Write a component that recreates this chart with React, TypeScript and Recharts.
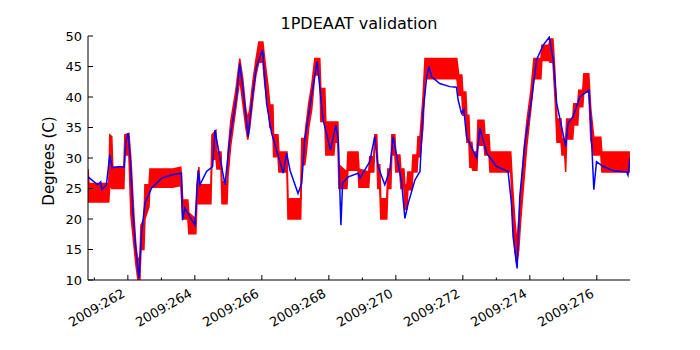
import React from "react";
import { ComposedChart, Area, Line, XAxis, YAxis } from "recharts";

// day of year 2009, measured temperature band (lo / hi of the noisy telemetry)
const redDay = [
  260.81, 260.84, 261.43, 261.46, 261.52, 261.55, 261.88, 261.91, 262.03, 262.09,
  262.18, 262.24, 262.3, 262.36, 262.39, 262.48, 262.51, 262.63, 262.66, 263.34,
  263.58, 263.64, 263.79, 263.82, 264.03, 264.06, 264.12, 264.15, 264.48, 264.51,
  264.63, 264.66, 264.78, 264.81, 264.96, 264.99, 265.07, 265.22, 265.34, 265.43,
  265.52, 265.58, 265.64, 265.73, 265.82, 265.91, 266.03, 266.09, 266.18, 266.24,
  266.33, 266.35, 266.48, 266.51, 266.75, 266.78, 267.16, 267.19, 267.28, 267.31,
  267.4, 267.49, 267.58, 267.73, 267.76, 267.88, 267.91, 268.15, 268.18, 268.27,
  268.3, 268.54, 268.57, 268.87, 268.9, 269.19, 269.22, 269.34, 269.37, 269.43,
  269.46, 269.52, 269.55, 269.73, 269.76, 269.85, 269.88, 269.97, 270.0, 270.12,
  270.15, 270.24, 270.27, 270.33, 270.36, 270.48, 270.51, 270.63, 270.66, 270.72,
  270.81, 270.87, 271.82, 271.88, 271.97, 272.0, 272.09, 272.12, 272.18, 272.21,
  272.27, 272.3, 272.42, 272.45, 272.63, 272.66, 272.78, 272.81, 273.43, 273.49,
  273.55, 273.61, 273.67, 273.73, 273.82, 273.91, 274.03, 274.12, 274.33, 274.36,
  274.57, 274.6, 274.69, 274.75, 274.81, 274.93, 274.96, 275.04, 275.07, 275.1,
  275.28, 275.31, 275.43, 275.46, 275.58, 275.61, 275.76, 275.82, 275.91, 276.12,
  276.15, 276.99,
];
const redLo = [
  22.8, 22.8, 22.8, 25.6, 25.0, 25.0, 25.0, 30.5, 30.5, 20.7,
  15.7, 12.5, 10.0, 10.0, 15.0, 15.0, 20.0, 22.0, 25.2, 25.2,
  25.5, 20.0, 20.0, 17.6, 17.6, 22.5, 22.5, 22.5, 22.5, 29.8,
  29.8, 28.2, 28.2, 22.5, 22.5, 27.0, 32.0, 38.0, 43.0, 39.0,
  35.0, 33.0, 35.0, 39.5, 43.5, 45.7, 45.7, 42.0, 38.7, 35.0,
  34.3, 30.2, 30.2, 27.7, 27.7, 20.0, 20.0, 28.9, 28.9, 30.0,
  35.0, 38.0, 43.6, 43.6, 36.0, 36.0, 30.5, 30.5, 32.6, 32.6,
  25.0, 25.0, 28.0, 28.0, 25.2, 25.2, 27.7, 27.7, 31.5, 31.5,
  25.0, 25.0, 20.0, 20.0, 25.0, 25.0, 30.5, 30.5, 27.7, 27.7,
  25.0, 25.0, 21.6, 21.6, 24.8, 24.8, 27.7, 27.7, 30.2, 30.2,
  35.0, 43.0, 43.0, 40.3, 40.3, 37.0, 37.0, 32.6, 32.6, 28.5,
  28.5, 28.0, 28.0, 32.1, 32.1, 30.5, 30.5, 27.7, 27.7, 20.0,
  15.0, 12.5, 15.0, 20.0, 26.0, 32.0, 38.0, 43.0, 43.0, 46.0,
  46.0, 45.7, 45.7, 40.0, 32.6, 32.6, 30.5, 30.5, 27.7, 33.1,
  33.1, 35.4, 35.4, 38.4, 38.4, 40.8, 40.8, 33.0, 30.5, 30.5,
  27.7, 27.7,
];
const redHi = [
  28.2, 25.8, 25.8, 33.8, 33.5, 28.5, 28.5, 33.8, 34.0, 30.0,
  20.7, 15.7, 13.0, 14.0, 19.0, 20.0, 25.6, 25.6, 28.2, 28.2,
  28.5, 23.1, 23.1, 21.0, 20.0, 25.6, 28.5, 25.6, 25.6, 33.8,
  34.5, 31.0, 31.0, 26.1, 26.1, 31.0, 36.0, 41.0, 46.3, 43.0,
  38.0, 36.5, 38.0, 42.5, 46.0, 49.0, 49.0, 46.0, 42.0, 38.7,
  38.7, 33.8, 33.8, 31.0, 31.0, 23.3, 23.3, 33.2, 33.2, 35.0,
  39.0, 42.0, 46.3, 46.3, 41.4, 41.4, 35.9, 35.9, 35.9, 35.9,
  28.9, 27.7, 31.0, 31.0, 28.2, 27.7, 30.2, 30.2, 33.8, 33.8,
  28.9, 28.9, 23.3, 23.3, 28.2, 28.2, 33.8, 33.8, 30.5, 30.5,
  28.2, 28.2, 25.6, 25.6, 27.7, 27.7, 30.5, 30.5, 33.5, 33.5,
  40.0, 46.3, 46.3, 43.6, 43.6, 40.8, 40.8, 37.0, 37.0, 32.6,
  32.6, 31.0, 31.0, 36.2, 36.2, 33.8, 33.8, 31.0, 31.0, 25.0,
  20.0, 16.0, 20.0, 24.0, 31.0, 36.0, 41.0, 46.3, 46.3, 48.5,
  48.5, 49.5, 49.5, 44.0, 36.4, 36.4, 33.1, 33.1, 33.1, 36.4,
  36.4, 38.9, 38.9, 41.1, 41.1, 43.8, 43.8, 38.0, 33.4, 33.4,
  31.0, 31.0,
];

// model prediction
const blueDay = [
  260.81, 261.1, 261.19, 261.22, 261.36, 261.46, 261.53, 261.76, 261.89, 261.94,
  262.01, 262.08, 262.16, 262.24, 262.33, 262.41, 262.51, 262.71, 263.01, 263.3,
  263.6, 263.63, 263.7, 264.0, 264.1, 264.15, 264.35, 264.53, 264.6, 264.65,
  264.9, 265.04, 265.24, 265.34, 265.44, 265.59, 265.74, 265.84, 266.02, 266.14,
  266.29, 266.54, 266.64, 266.74, 266.84, 267.08, 267.19, 267.28, 267.48, 267.65,
  267.83, 268.05, 268.21, 268.28, 268.36, 268.41, 268.58, 268.87, 268.93, 269.22,
  269.37, 269.47, 269.67, 269.82, 269.92, 270.02, 270.17, 270.27, 270.37, 270.57,
  270.72, 270.81, 270.92, 270.99, 271.07, 271.31, 271.61, 271.81, 271.86, 271.96,
  272.03, 272.11, 272.41, 272.51, 272.71, 273.01, 273.35, 273.45, 273.5, 273.62,
  273.7, 273.85, 274.05, 274.2, 274.4, 274.58, 274.7, 274.8, 275.07, 275.14,
  275.29, 275.49, 275.76, 275.81, 275.91, 275.99, 276.19, 276.49, 276.89, 276.93,
  276.99,
];
const blueVal = [
  26.9, 25.6, 26.1, 24.8, 25.6, 30.5, 28.4, 28.6, 28.5, 32.7,
  34.1, 29.2, 20.4, 14.9, 10.3, 17.7, 22.6, 25.1, 26.7, 27.2,
  27.5, 19.8, 21.8, 19.0, 28.0, 25.6, 27.8, 28.6, 34.6, 33.0,
  25.6, 33.0, 40.0, 45.5, 41.1, 33.5, 41.1, 45.0, 47.7, 39.0,
  34.1, 29.4, 27.5, 30.8, 28.0, 24.2, 25.9, 33.0, 40.0, 45.8,
  36.2, 31.3, 35.4, 33.0, 19.0, 25.9, 26.9, 27.5, 26.7, 29.4,
  33.5, 28.6, 25.6, 28.0, 33.5, 30.5, 26.1, 20.1, 22.6, 26.4,
  27.8, 37.3, 43.3, 45.0, 43.3, 42.2, 41.7, 41.6, 39.5, 37.3,
  37.9, 33.5, 30.0, 34.9, 30.8, 28.6, 27.8, 22.6, 17.1, 11.9,
  23.7, 32.4, 39.5, 46.1, 48.5, 49.8, 46.1, 39.0, 31.9, 35.7,
  36.8, 40.0, 41.1, 36.8, 24.8, 29.4, 28.6, 27.9, 27.7, 27.2,
  30.0,
];

const dayTicks = [261, 262, 263, 264, 265, 266, 267, 268, 269, 270, 271, 272, 273, 274, 275, 276];
const degTicks = [10, 15, 20, 25, 30, 35, 40, 45, 50];

const redData = redDay.map((d, i) => ({ day: d, band: [redLo[i], redHi[i]] }));
const blueData = blueDay.map((d, i) => ({ day: d, value: blueVal[i] }));

const FONT = "'DejaVu Sans', sans-serif";

// matplotlib style ticks pointing into the plot
const BottomTick = (props: any) => {
  const { x, y, payload } = props;
  const d = payload.value;
  const major = d % 2 === 0;
  const ax = x - 2;
  const ay = y + 16;
  return (
    <g>
      <line x1={x} y1={y} x2={x} y2={y - (major ? 5 : 2.5)} stroke="#000" />
      {major && (
        <text x={ax} y={ay} textAnchor="end" transform={`rotate(-30, ${ax}, ${ay})`}
          fontSize={13} fill="#000" fontFamily={FONT}>
          {`2009:${d}`}
        </text>
      )}
    </g>
  );
};

const TopTick = (props: any) => {
  const { x, y, payload } = props;
  const major = payload.value % 2 === 0;
  return <line x1={x} y1={y} x2={x} y2={y + (major ? 5 : 2.5)} stroke="#000" />;
};

const LeftTick = (props: any) => {
  const { x, y, payload } = props;
  return (
    <g>
      <line x1={x} y1={y} x2={x + 5} y2={y} stroke="#000" />
      <text x={x - 6} y={y + 4.7} textAnchor="end" fontSize={13} fill="#000" fontFamily={FONT}>
        {payload.value}
      </text>
    </g>
  );
};

const RightTick = (props: any) => {
  const { x, y } = props;
  return <line x1={x} y1={y} x2={x - 5} y2={y} stroke="#000" />;
};

export default function App() {
  return (
    <div style={{ position: "absolute", left: 0, top: 0, width: 700, height: 350, background: "#fff", fontFamily: FONT }}>
      <ComposedChart width={700} height={350} margin={{ top: 36, right: 70, left: 0, bottom: 0 }}>
        <XAxis dataKey="day" type="number" domain={[260.81, 276.99]} allowDataOverflow
          ticks={dayTicks} interval={0} height={70} tickSize={0} tickMargin={0}
          tickLine={false} axisLine={{ stroke: "#000" }} tick={<BottomTick />} />
        <XAxis xAxisId="top" orientation="top" dataKey="day" type="number" domain={[260.81, 276.99]}
          allowDataOverflow ticks={dayTicks} interval={0} height={0} tickSize={0} tickMargin={0}
          tickLine={false} axisLine={{ stroke: "#000" }} tick={<TopTick />} />
        <YAxis type="number" domain={[10, 50]} allowDataOverflow ticks={degTicks} interval={0}
          width={88} tickSize={0} tickMargin={0} tickLine={false} axisLine={{ stroke: "#000" }}
          tick={<LeftTick />} />
        <YAxis yAxisId="right" orientation="right" type="number" domain={[10, 50]} allowDataOverflow
          ticks={degTicks} interval={0} width={0} tickSize={0} tickMargin={0} tickLine={false}
          axisLine={{ stroke: "#000" }} tick={<RightTick />} />
        <Area data={redData} dataKey="band" type="linear" fill="#ff0000" fillOpacity={1}
          stroke="#ff0000" strokeWidth={1.5} isAnimationActive={false} dot={false} activeDot={false} />
        <Line data={blueData} dataKey="value" type="linear" stroke="#0000ff" strokeWidth={1.5}
          dot={false} activeDot={false} isAnimationActive={false} />
      </ComposedChart>
      <svg width={700} height={350} style={{ position: "absolute", left: 0, top: 0, pointerEvents: "none" }}>
        <text x={359} y={29} textAnchor="middle" fontSize={16} fill="#000" fontFamily={FONT}>
          1PDEAAT validation
        </text>
        <text transform="translate(54, 161) rotate(-90)" textAnchor="middle" fontSize={15}
          fill="#000" fontFamily={FONT}>
          Degrees (C)
        </text>
      </svg>
    </div>
  );
}
